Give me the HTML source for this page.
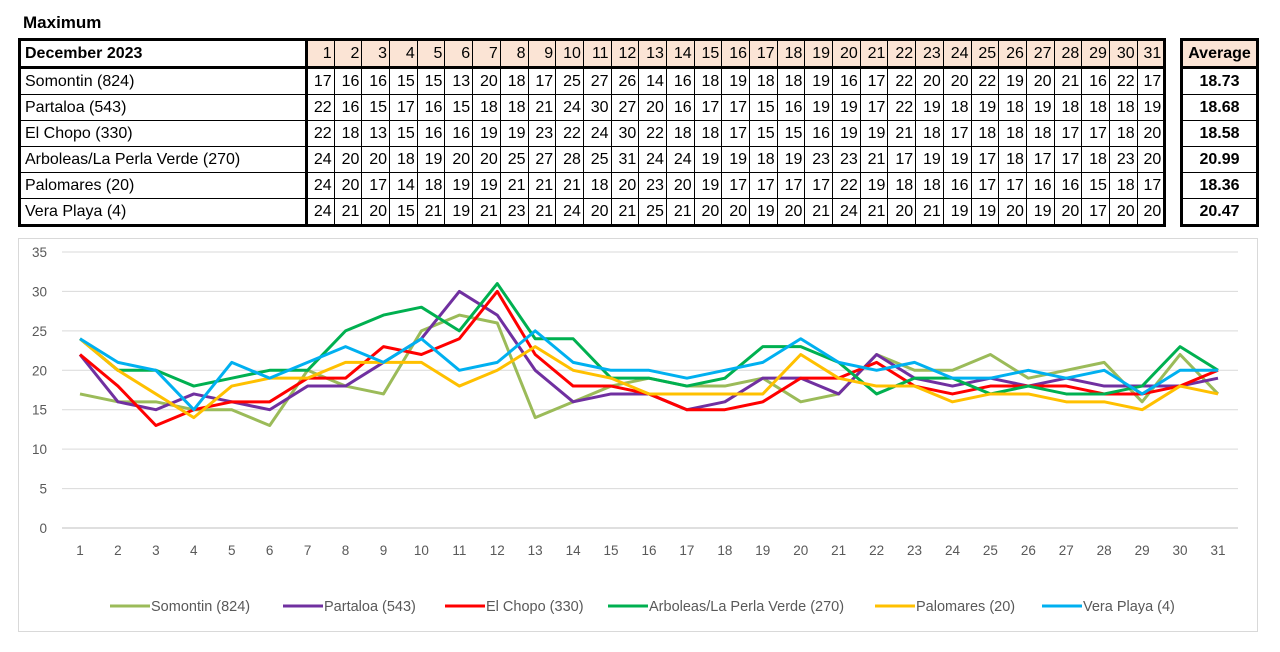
<!DOCTYPE html>
<html><head><meta charset="utf-8"><style>
body{margin:0;width:1280px;height:652px;background:#fff;font-family:"Liberation Sans",sans-serif;position:relative;overflow:hidden}
#title{position:absolute;left:23px;top:13px;font-weight:bold;font-size:17px}
table{position:absolute;border-collapse:collapse;border:3px solid #000;font-size:16px;table-layout:fixed}
td{border:1px solid #000;height:25px;padding:0 2px;white-space:nowrap;overflow:hidden}
td.n{text-align:right;padding:0 2px 0 0}
td.h{background:#fbe4d5}
td.name{border-right:3px solid #000;padding-left:4px}
tr.hd td{border-bottom:3px solid #000}
#avg td{text-align:center;font-weight:bold}
#chartbox{position:absolute;left:18px;top:238px;width:1240px;height:394px;border:1px solid #d9d9d9;box-sizing:border-box}
svg{position:absolute;left:0;top:0}
</style></head><body>
<div id="title">Maximum</div>
<table id="main" style="left:18px;top:38px;width:1146px"><colgroup id="cg"></colgroup></table>
<table id="avg" style="left:1180px;top:38px;width:79px"></table>
<div id="chartbox"></div>
<svg id="chart" width="1280" height="652"></svg>
<script>
const days=[1,2,3,4,5,6,7,8,9,10,11,12,13,14,15,16,17,18,19,20,21,22,23,24,25,26,27,28,29,30,31];
const names=["Somontin (824)","Partaloa (543)","El Chopo (330)","Arboleas/La Perla Verde (270)","Palomares (20)","Vera Playa (4)"];
const colors=["#9bbb59","#7030a0","#ff0000","#00b050","#ffc000","#00b0f0"];
const averages=["18.73","18.68","18.58","20.99","18.36","20.47"];
const somontin=[17,16,16,15,15,13,20,18,17,25,27,26,14,16,18,19,18,18,19,16,17,22,20,20,22,19,20,21,16,22,17];
const partaloa=[22,16,15,17,16,15,18,18,21,24,30,27,20,16,17,17,15,16,19,19,17,22,19,18,19,18,19,18,18,18,19];
const elchopo=[22,18,13,15,16,16,19,19,23,22,24,30,22,18,18,17,15,15,16,19,19,21,18,17,18,18,18,17,17,18,20];
const arboleas=[24,20,20,18,19,20,20,25,27,28,25,31,24,24,19,19,18,19,23,23,21,17,19,19,17,18,17,17,18,23,20];
const palomares=[24,20,17,14,18,19,19,21,21,21,18,20,23,20,19,17,17,17,17,22,19,18,18,16,17,17,16,16,15,18,17];
const vera=[24,21,20,15,21,19,21,23,21,24,20,21,25,21,20,20,19,20,21,24,21,20,21,19,19,20,19,20,17,20,20];
const series=[somontin,partaloa,elchopo,arboleas,palomares,vera];
const yTicks=[0,5,10,15,20,25,30,35];

const main=document.getElementById('main'),avg=document.getElementById('avg'),cg=document.getElementById('cg');
let col=document.createElement('col');col.style.width='287px';cg.appendChild(col);
days.forEach(()=>{let c2=document.createElement('col');c2.style.width='27.7px';cg.appendChild(c2);});
let hr=document.createElement('tr');hr.className='hd';


let c=document.createElement('td');c.className='name';c.style.fontWeight='bold';c.textContent='December 2023';hr.appendChild(c);
days.forEach(d=>{let t=document.createElement('td');t.className='n h';t.textContent=d;


hr.appendChild(t);});
main.appendChild(hr);
let ah=document.createElement('tr');ah.className='hd';let at=document.createElement('td');at.className='h';at.textContent='Average';ah.appendChild(at);avg.appendChild(ah);
names.forEach((n,i)=>{
 let r=document.createElement('tr');
 
 
 let nc=document.createElement('td');nc.className='name';nc.textContent=n;r.appendChild(nc);
 series[i].forEach(v=>{let t=document.createElement('td');t.className='n';t.textContent=v;r.appendChild(t);});
 main.appendChild(r);
 let ar=document.createElement('tr');let ac=document.createElement('td');ac.textContent=averages[i];
 
 
 ar.appendChild(ac);avg.appendChild(ar);
});

const svg=document.getElementById('chart');const NS='http://www.w3.org/2000/svg';
const x0=80,x1=1218,y0=528,y35=252;
const xs=d=>x0+(d-1)*(x1-x0)/30;
const ys=v=>y0-v*(y0-y35)/35;
function el(t,a,txt){const e=document.createElementNS(NS,t);for(const k in a)e.setAttribute(k,a[k]);if(txt!=null)e.textContent=txt;svg.appendChild(e);return e;}
yTicks.forEach(v=>{
 const g=el('line',{x1:62,x2:1238,y1:ys(v),y2:ys(v),stroke:v==0?'#bfbfbf':'#d9d9d9','stroke-width':1});
 
 
 const t=el('text',{x:47,y:ys(v)+5,'text-anchor':'end','font-size':13.5,fill:'#595959'},v);
 
 
});
days.forEach(d=>{const t=el('text',{x:xs(d),y:555,'text-anchor':'middle','font-size':13.5,fill:'#595959'},d);
 
 
});
series.forEach((s,i)=>{
 const p=el('polyline',{points:s.map((v,j)=>xs(days[j])+','+ys(v)).join(' '),fill:'none',stroke:colors[i],'stroke-width':3,'stroke-linejoin':'round'});
 
 
});
const lx=[110,283,445,608,875,1042];
names.forEach((n,i)=>{
 const l=el('line',{x1:lx[i],x2:lx[i]+40,y1:606,y2:606,stroke:colors[i],'stroke-width':3});
 
 
 const t=el('text',{x:lx[i]+41,y:611,'font-size':14.5,fill:'#595959'},n);
 
 
});
</script>
</body></html>
